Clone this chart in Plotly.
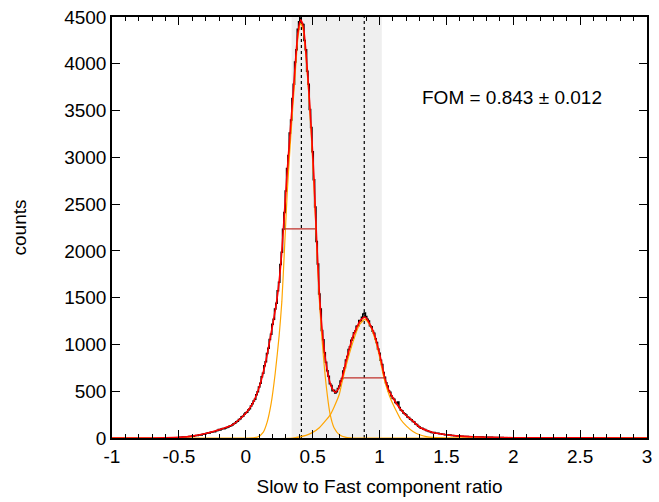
import numpy as np
import plotly.graph_objects as go

# ---------------- data ----------------
hist_start = -0.5
hist_width = 0.01
hist_counts = [
    6, 9, 7, 10, 12, 11, 14, 13, 17, 16,
    21, 19, 25, 27, 26, 31, 34, 33, 40, 42,
    46, 52, 55, 53, 61, 64, 68, 66, 77, 80,
    91, 86, 95, 101, 99, 108, 112, 118, 125, 131,
    138, 153, 158, 175, 180, 198, 205, 226, 233, 255,
    270, 276, 300, 312, 342, 366, 395, 414, 462, 495,
    545, 585, 655, 692, 772, 815, 902, 958, 1052, 1110,
    1215, 1270, 1380, 1440, 1575, 1665, 1855, 1985, 2230, 2410,
    2640, 2880, 3020, 3260, 3400, 3630, 3780, 4020, 4150, 4370,
    4450, 4490, 4430, 4420, 4250, 4150, 3920, 3780, 3510, 3320,
    3060, 2760, 2470, 2100, 1860, 1540, 1380, 1150, 1050, 910,
    810, 720, 660, 580, 560, 505, 510, 480, 495, 530,
    555, 610, 635, 715, 750, 835, 870, 945, 975, 1045,
    1070, 1125, 1145, 1195, 1200, 1255, 1250, 1290, 1325, 1335,
    1300, 1270, 1250, 1200, 1190, 1140, 1120, 1060, 1020, 950,
    905, 830, 785, 700, 650, 590, 555, 505, 490, 450,
    425, 415, 380, 370, 385, 325, 300, 292, 268, 260,
    245, 225, 220, 200, 195, 176, 170, 150, 143, 126,
    118, 105, 104, 93, 90, 80, 78, 70, 68, 60,
    57, 58, 52, 50, 50, 45, 45, 41, 40, 36,
    34, 34, 31, 31, 28, 28, 25, 24, 22, 22,
    21, 18, 19, 17, 17, 15, 16, 14, 14, 13,
    12, 13, 11, 12, 10, 11, 9, 10, 9, 8,
    8, 7, 8, 6, 7, 6, 6, 5, 6, 5,
    5, 4, 5, 4, 4, 3, 4, 3, 3, 3,
]

fit_x = [-1.0, -0.8, -0.6, -0.5, -0.4, -0.3, -0.2, -0.1, -0.05, 0.0, 0.05, 0.1,
         0.15, 0.2, 0.23, 0.25, 0.27, 0.29, 0.31, 0.33, 0.35, 0.37, 0.39, 0.41,
         0.43, 0.45, 0.47, 0.49, 0.51, 0.53, 0.55, 0.57, 0.6, 0.63, 0.65, 0.67,
         0.69, 0.72, 0.75, 0.77, 0.8, 0.82, 0.85, 0.87, 0.89, 0.91, 0.93, 0.95,
         0.97, 0.99, 1.01, 1.04, 1.07, 1.1, 1.15, 1.2, 1.25, 1.3, 1.35, 1.4,
         1.5, 1.6, 1.7, 1.8, 1.9, 2.0, 2.5, 3.0]
fit_y = [0, 0, 2, 7, 20, 48, 88, 140, 195, 265, 365, 540,
         820, 1200, 1450, 1680, 2000, 2420, 2850, 3230, 3600, 3990, 4330, 4470,
         4400, 4120, 3750, 3300, 2780, 2120, 1560, 1170, 800, 590, 520, 488,
         520, 640, 820, 932, 1080, 1150, 1240, 1275, 1292, 1265, 1210, 1150,
         1070, 960, 840, 640, 510, 430, 320, 240, 180, 115, 82, 58,
         35, 20, 13, 8, 5, 3, 1, 0]

g1_x = [-1.0, 0.0, 0.05, 0.09, 0.13, 0.16, 0.19, 0.22, 0.25, 0.27, 0.29, 0.31,
        0.33, 0.35, 0.37, 0.39, 0.41, 0.43, 0.45, 0.47, 0.49, 0.51, 0.53, 0.55,
        0.57, 0.6, 0.63, 0.66, 0.7, 0.75, 0.8, 3.0]
g1_y = [0, 0, 2, 10, 60, 170, 370, 690, 1100, 1460, 2030, 2620,
        3080, 3500, 3900, 4280, 4430, 4360, 4080, 3700, 3230, 2700, 2060, 1480,
        1060, 580, 260, 110, 35, 6, 0, 0]

g2_x = [-1.0, 0.35, 0.45, 0.5, 0.55, 0.6, 0.63, 0.66, 0.7, 0.72, 0.75, 0.8,
        0.85, 0.89, 0.93, 0.97, 1.0, 1.03, 1.06, 1.09, 1.12, 1.16, 1.2, 1.25,
        1.3, 1.35, 1.4, 1.5, 3.0]
g2_y = [0, 0, 28, 60, 110, 190, 245, 330, 470, 595, 770, 1020,
        1210, 1268, 1200, 1040, 870, 660, 510, 395, 305, 195, 130, 70,
        35, 15, 6, 0, 0]

peak_pos = [0.416, 0.886]
band_range = [0.343, 1.017]
fwhm1 = [0.276, 0.522, 2235]
fwhm2 = [0.731, 1.043, 643]

x_ticks = [-1, -0.5, 0, 0.5, 1, 1.5, 2, 2.5, 3]
x_labels = ["-1", "-0.5", "0", "0.5", "1", "1.5", "2", "2.5", "3"]
y_ticks = [0, 500, 1000, 1500, 2000, 2500, 3000, 3500, 4000, 4500]
fom_text = "FOM = 0.843 \u00b1 0.012"

# ---------------- figure ----------------
hist_x = np.round(hist_start + hist_width * np.arange(len(hist_counts)), 4)

FONT = "Liberation Sans, Arial, sans-serif"
FS = 19
fig = go.Figure()

fig.add_trace(go.Scatter(x=hist_x, y=hist_counts, mode="lines",
                         line=dict(color="black", width=1.5, shape="hvh"),
                         showlegend=False, hoverinfo="skip"))
fig.add_trace(go.Scatter(x=g1_x, y=g1_y, mode="lines",
                         line=dict(color="#ffa500", width=1.2, shape="spline", smoothing=0.6),
                         showlegend=False))
fig.add_trace(go.Scatter(x=g2_x, y=g2_y, mode="lines",
                         line=dict(color="#ffa500", width=1.2, shape="spline", smoothing=0.6),
                         showlegend=False))
fig.add_trace(go.Scatter(x=fit_x, y=fit_y, mode="lines",
                         line=dict(color="#ff0000", width=1.6, shape="spline", smoothing=0.6),
                         showlegend=False))
for f in (fwhm1, fwhm2):
    fig.add_trace(go.Scatter(x=[f[0], f[1]], y=[f[2], f[2]], mode="lines",
                             line=dict(color="#c0302a", width=1.2),
                             showlegend=False))

fig.add_shape(type="rect", xref="x", yref="paper", x0=band_range[0], x1=band_range[1],
              y0=0, y1=1, fillcolor="#efefef", line=dict(width=0), layer="below")
for p in peak_pos:
    fig.add_shape(type="line", xref="x", yref="paper", x0=p, x1=p, y0=0, y1=1,
                  line=dict(color="black", width=1.2, dash="dot"), layer="below")

fig.add_annotation(x=1.99, y=3640, xref="x", yref="y", text=fom_text,
                   showarrow=False, font=dict(family=FONT, size=FS, color="black"))

axis_common = dict(showline=True, linecolor="black", linewidth=1.5, mirror="allticks",
                   ticks="inside", tickcolor="black", tickwidth=1.2, ticklen=8,
                   showgrid=False, zeroline=False,
                   tickfont=dict(family=FONT, size=FS, color="black"))

fig.update_xaxes(range=[-1, 3], tickvals=x_ticks, ticktext=x_labels,
                 minor=dict(dtick=0.1, tick0=0, ticks="inside", ticklen=4,
                            tickcolor="black", tickwidth=1.2),
                 title=dict(text="Slow to Fast component ratio",
                            font=dict(family=FONT, size=FS, color="black"), standoff=14),
                 **axis_common)
fig.update_yaxes(range=[0, 4500], tickvals=y_ticks,
                 title=dict(text="counts", font=dict(family=FONT, size=FS, color="black"),
                            standoff=33),
                 **axis_common)

fig.update_layout(width=659, height=502,
                  margin=dict(l=112, r=7, t=13, b=64),
                  plot_bgcolor="white", paper_bgcolor="white",
                  font=dict(family=FONT, size=FS, color="black"))

fig.write_html("out.html")
